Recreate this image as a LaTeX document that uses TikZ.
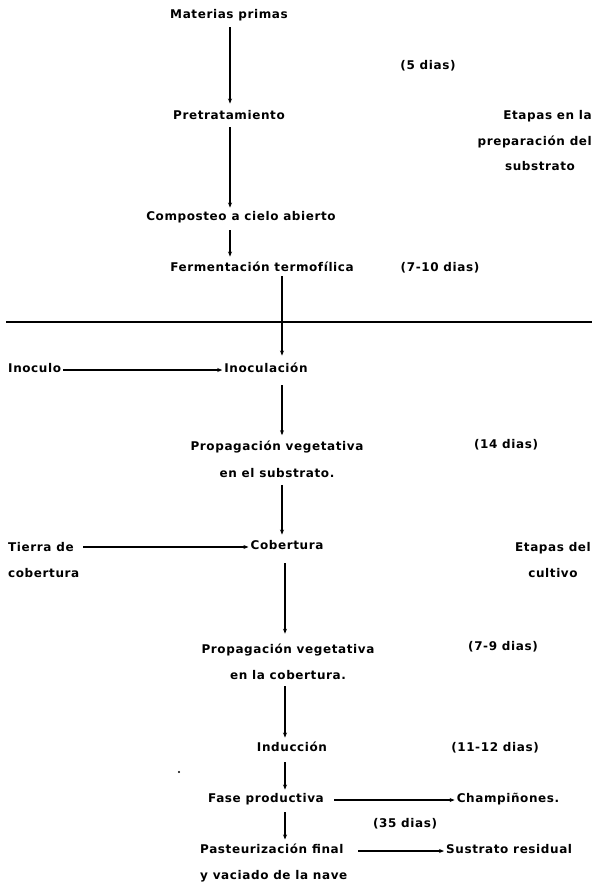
\documentclass[tikz,border=0pt]{standalone}
\usepackage{fontspec}
\newfontfamily\dmfont{DejaVu Sans}[LetterSpace=5]
\usetikzlibrary{arrows.meta}
\tikzset{
  lbl/.style={font=\dmfont\bfseries\fontsize{12}{26.5}\selectfont, inner xsep=2pt, inner ysep=0pt, text height=8pt, text depth=2.5pt},
  lbl2/.style={lbl, align=center, text height=, text depth=},
  arr/.style={line width=1.1pt, -{Stealth[length=5pt,width=4pt]}},
  rule/.style={line width=1.3pt}
}
\begin{document}
\begin{tikzpicture}[x=1pt,y=-1pt]
\useasboundingbox (0,0) rectangle (598,883);
% helper x positions
\coordinate (L1) at (230,0);
\coordinate (L2) at (282,0);
\coordinate (L3) at (285,0);
% upper part
\node[lbl] (mp) at (229,16) {Materias primas};
\node[lbl] (d5) at (428,67) {(5 dias)};
\node[lbl] (pre) at (229,117) {Pretratamiento};
\node[lbl, anchor=east] (et1) at (594,117) {Etapas en la};
\node[lbl, anchor=east] (et2) at (594,143) {preparación del};
\node[lbl] (et3) at (540,168) {substrato};
\node[lbl] (comp) at (241,218) {Composteo a cielo abierto};
\node[lbl] (ferm) at (262,269) {Fermentación termofílica};
\node[lbl] (d710) at (440,269) {(7-10 dias)};
% divider
\coordinate (hl1) at (6,322);
\coordinate (hl2) at (592,322);
\draw[rule] (hl1) -- (hl2);
% lower part
\node[lbl, anchor=west] (inoculo) at (6,370) {Inoculo};
\node[lbl] (inoc) at (266,370) {Inoculación};
\node[lbl2] (prop1) at (277,459.5) {Propagación vegetativa\\en el substrato.};
\node[lbl] (d14) at (506,446) {(14 dias)};
\node[lbl2, align=left, anchor=west] (tierra) at (6,560) {Tierra de\\cobertura};
\node[lbl] (cob) at (287,547) {Cobertura};
\node[lbl2] (etc) at (553,560) {Etapas del\\cultivo};
\node[lbl2] (prop2) at (288,662) {Propagación vegetativa\\en la cobertura.};
\node[lbl] (d79) at (503,648) {(7-9 dias)};
\node[lbl] (ind) at (292,749) {Inducción};
\node[lbl] (d1112) at (495,749) {(11-12 dias)};
\node[lbl] (fase) at (266,800) {Fase productiva};
\node[lbl] (champ) at (508,800) {Champiñones.};
\node[lbl] (d35) at (405,825) {(35 dias)};
\node[lbl2, align=left, anchor=west] (past) at (198,863) {Pasteurización final\\y vaciado de la nave};
\node[lbl, anchor=west] (sust) at (444,851) {Sustrato residual};
\coordinate (pastr) at (358,851);
\coordinate (dot) at (179,772);
\fill (dot) circle (1.2pt);
% vertical connectors
\draw[arr] ([yshift=-6pt]mp.south -| L1) -- ([yshift=8pt]pre.north -| L1);
\draw[arr] ([yshift=-5pt]pre.south -| L1) -- ([yshift=5pt]comp.north -| L1);
\draw[arr] ([yshift=-7pt]comp.south -| L1) -- ([yshift=7pt]ferm.north -| L1);
\draw[arr] ([yshift=-2pt]ferm.south -| L2) -- ([yshift=9pt]inoc.north -| L2);
\draw[arr] ([yshift=-10pt]inoc.south -| L2) -- ([yshift=6pt]prop1.north -| L2);
\draw[arr] ([yshift=-7pt]prop1.south -| L2) -- ([yshift=7pt]cob.north -| L2);
\draw[arr] ([yshift=-11pt]cob.south -| L3) -- ([yshift=10pt]prop2.north -| L3);
\draw[arr] ([yshift=-6pt]prop2.south -| L3) -- ([yshift=6pt]ind.north -| L3);
\draw[arr] ([yshift=-8pt]ind.south -| L3) -- ([yshift=5pt]fase.north -| L3);
\draw[arr] ([yshift=-7pt]fase.south -| L3) -- ([yshift=4pt]past.north -| L3);
% horizontal connectors
\draw[arr] (inoculo.east) -- (inoc.west);
\draw[arr] ([yshift=13pt,xshift=2pt]tierra.east) -- (cob.west);
\draw[arr] ([xshift=8pt]fase.east) -- (champ.west);
\draw[arr] (pastr) -- (sust.west);
\end{tikzpicture}
\end{document}
